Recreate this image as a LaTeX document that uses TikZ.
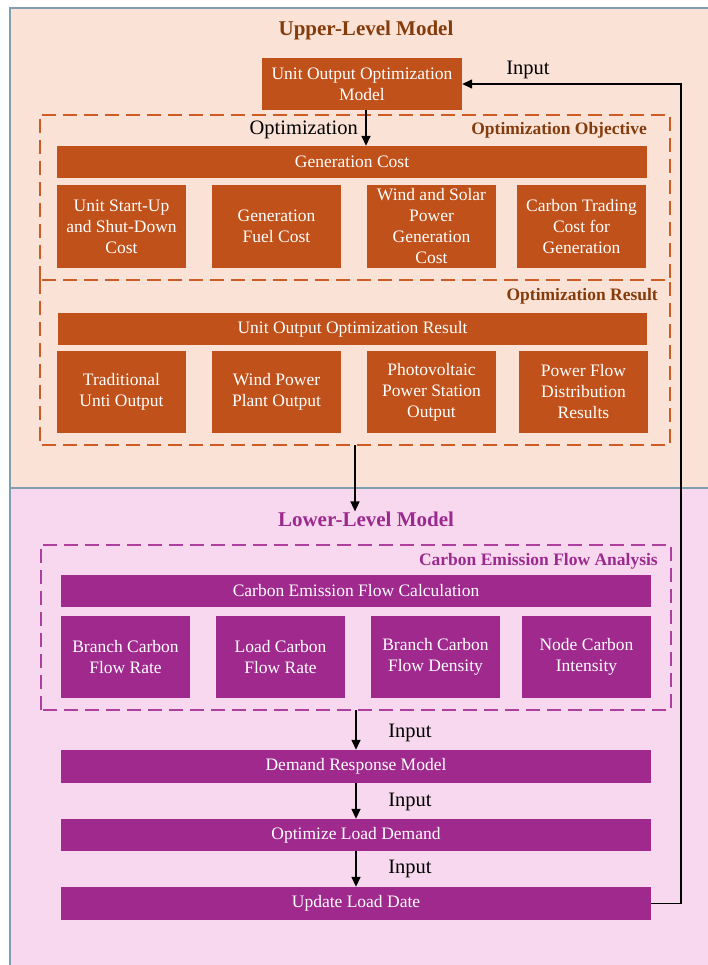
\documentclass[tikz,border=0pt]{standalone}
\usepackage{fontspec}
\setmainfont{Liberation Serif}
\usetikzlibrary{arrows.meta}
\definecolor{upfill}{HTML}{FBE2D6}
\definecolor{lowfill}{HTML}{F8D8EE}
\definecolor{panelline}{HTML}{7F9FB0}
\definecolor{obrown}{HTML}{C1511A}
\definecolor{odash}{HTML}{CC5C24}
\definecolor{otitle}{HTML}{843C0C}
\definecolor{ppurple}{HTML}{A0298E}
\definecolor{pdash}{HTML}{AF3F9C}
\definecolor{ptitle}{HTML}{9C2A8E}
\begin{document}
\begin{tikzpicture}[x=1pt,y=-1pt,
  boxtext/.style={inner sep=0pt,align=center,text=white,font=\fontsize{17.5}{21}\selectfont},
  obox/.style={boxtext,fill=obrown},
  pbox/.style={boxtext,fill=ppurple},
  areabox/.style={inner sep=0pt},
  odashline/.style={draw=odash,line width=1.8pt,dash pattern=on 14pt off 7pt},
  pdashline/.style={draw=pdash,line width=1.8pt,dash pattern=on 14pt off 7pt},
  otitlestyle/.style={text=otitle,font=\fontsize{21}{25}\selectfont\bfseries,inner sep=0pt},
  ptitlestyle/.style={text=ptitle,font=\fontsize{21}{25}\selectfont\bfseries,inner sep=0pt},
  olab/.style={text=otitle,font=\fontsize{17.5}{21}\selectfont\bfseries,inner sep=0pt,anchor=east},
  plab/.style={text=ptitle,font=\fontsize{17.5}{21}\selectfont\bfseries,inner sep=0pt,anchor=east},
  flowlab/.style={text=black,font=\fontsize{20.5}{24}\selectfont,inner sep=0pt},
  conn/.style={draw=black,line width=1.5pt,-{Triangle[length=10pt,width=9pt]}}
]
\useasboundingbox (0,0) rectangle (707,965);
% panels
\fill[upfill] (10,8) rectangle (720,488);
\fill[lowfill] (10,488) rectangle (720,975);
\draw[panelline,line width=1.2pt] (720,8) -- (10,8) -- (10,975);
\draw[panelline,line width=1.2pt] (10,488) -- (720,488);

% ---------- upper level ----------
\node[otitlestyle] (uptitle) at (366,30) {Upper-Level Model};
\node[obox,minimum width=200pt,minimum height=52pt] (model) at (362,84) {Unit Output Optimization\\Model};

\node[areabox,minimum width=630pt,minimum height=165pt] (obj) at (355,197.5) {};
\draw[odashline] (obj.south west) -- (obj.north west) -- (obj.north east) -- (obj.south east) -- (obj.south west);
\node[olab] (objlab) at (647,130) {Optimization Objective};
\node[obox,minimum width=590pt,minimum height=32pt] (gencost) at (352,162) {Generation Cost};
\node[obox,minimum width=129pt,minimum height=83pt] (c1) at (121.5,226.5) {Unit Start-Up\\and Shut-Down\\Cost};
\node[obox,minimum width=129pt,minimum height=83pt] (c2) at (276.5,226.5) {Generation\\Fuel Cost};
\node[obox,minimum width=129pt,minimum height=83pt] (c3) at (431.5,226.5) {Wind and Solar\\Power\\Generation\\Cost};
\node[obox,minimum width=129pt,minimum height=83pt] (c4) at (581.5,226.5) {Carbon Trading\\Cost for\\Generation};

\node[areabox,minimum width=630pt,minimum height=165pt] (res) at (355,362.5) {};
\draw[odashline] (res.north west) -- (res.south west) -- (res.south east) -- (res.north east);
\node[olab] (reslab) at (658,296) {Optimization Result};
\node[obox,minimum width=589pt,minimum height=32pt] (resbar) at (352.5,329) {Unit Output Optimization Result};
\node[obox,minimum width=129pt,minimum height=82pt] (r1) at (121.5,392) {Traditional\\Unti Output};
\node[obox,minimum width=129pt,minimum height=82pt] (r2) at (276.5,392) {Wind Power\\Plant Output};
\node[obox,minimum width=129pt,minimum height=82pt] (r3) at (431.5,392) {Photovoltaic\\Power Station\\Output};
\node[obox,minimum width=129pt,minimum height=82pt] (r4) at (583.5,392) {Power Flow\\Distribution\\Results};

\coordinate (ma) at (366,110);
\draw[conn] (model.south -| ma) -- (gencost.north -| ma);
\node[flowlab,anchor=east] (optlab) at (358,130) {Optimization};

% ---------- lower level ----------
\node[ptitlestyle] (lowtitle) at (366,519) {Lower-Level Model};
\draw[conn] (res.south) -- (res.south |- lowtitle.north);

\node[areabox,minimum width=630pt,minimum height=165pt] (cef) at (356,627.5) {};
\draw[pdashline] (cef.south west) -- (cef.north west) -- (cef.north east) -- (cef.south east) -- cycle;
\node[plab] (ceflab) at (658,561) {Carbon Emission Flow Analysis};
\node[pbox,minimum width=590pt,minimum height=32pt] (cefbar) at (356,591) {Carbon Emission Flow Calculation};
\node[pbox,minimum width=129pt,minimum height=82pt] (p1) at (125.5,657) {Branch Carbon\\Flow Rate};
\node[pbox,minimum width=129pt,minimum height=82pt] (p2) at (280.5,657) {Load Carbon\\Flow Rate};
\node[pbox,minimum width=129pt,minimum height=82pt] (p3) at (435.5,657) {Branch Carbon\\Flow Density};
\node[pbox,minimum width=129pt,minimum height=82pt] (p4) at (586.5,657) {Node Carbon\\Intensity};

\node[pbox,minimum width=590pt,minimum height=33pt] (dr) at (356,766.5) {Demand Response Model};
\node[pbox,minimum width=590pt,minimum height=32pt] (old) at (356,835) {Optimize Load Demand};
\node[pbox,minimum width=590pt,minimum height=33pt] (upd) at (356,903.5) {Update Load Date};

\draw[conn] (cef.south -| dr.north) -- (dr.north);
\draw[conn] (dr.south) -- (old.north);
\draw[conn] (old.south) -- (upd.north);
\node[flowlab] (in1) at (410,733) {Input};
\node[flowlab] (in2) at (410,802) {Input};
\node[flowlab] (in3) at (410,869) {Input};

% feedback
\coordinate (fbx) at (681,0);
\draw[conn] (upd.east) -- (upd.east -| fbx) |- (model.east);
\node[flowlab] (in0) at (528,70) {Input};
\end{tikzpicture}
\end{document}
